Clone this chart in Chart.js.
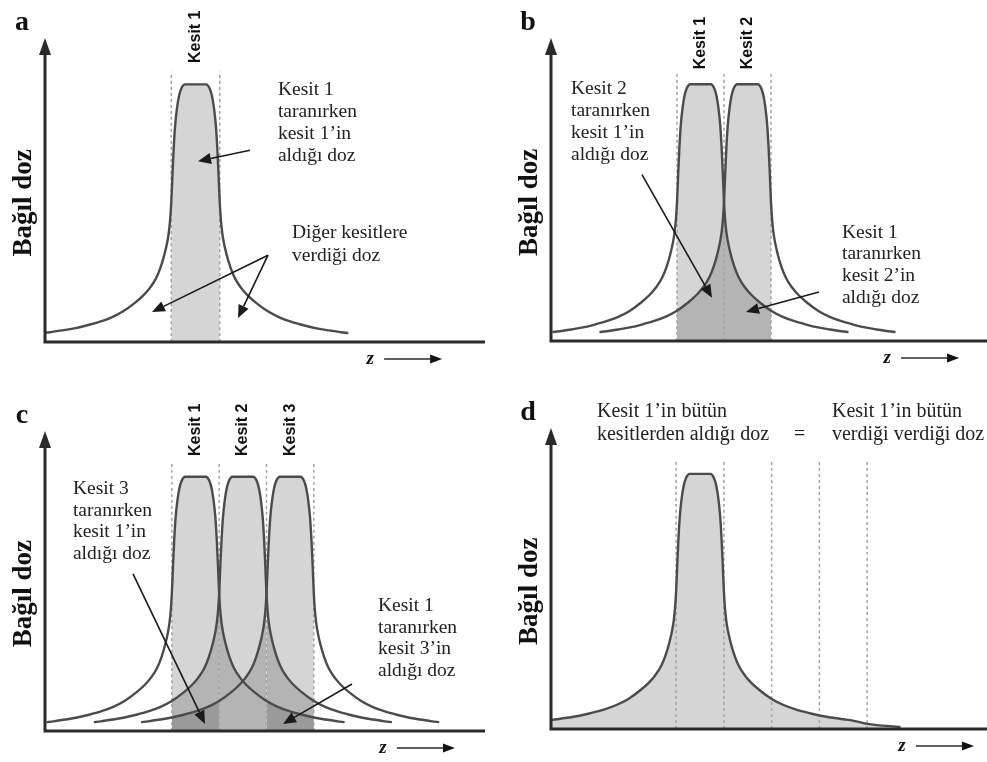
<!DOCTYPE html>
<html>
<head>
<meta charset="utf-8">
<script src="https://cdn.jsdelivr.net/npm/chart.js@4.4.0/dist/chart.umd.min.js"></script>
<style>
    body { margin: 0; background: #fff; }
    #wrap { position: relative; width: 987px; height: 762px; }
    .panel { position: absolute; }
</style>
</head>
<body>
<div id="wrap">
    <canvas id="chart-a" class="panel" width="493" height="381" style="left:0;top:0"></canvas>
    <canvas id="chart-b" class="panel" width="493" height="381" style="left:494px;top:0"></canvas>
    <canvas id="chart-c" class="panel" width="493" height="381" style="left:0;top:381px"></canvas>
    <canvas id="chart-d" class="panel" width="493" height="381" style="left:494px;top:381px"></canvas>
</div>
<script>
// Dose profile of one slice (half, mirrored): offset in slice widths -> relative dose
const profileOffset = [0, 0.22, 0.29, 0.34, 0.38, 0.42, 0.45, 0.475, 0.50, 0.525, 0.55, 0.58, 0.64, 0.72, 0.82, 0.94, 1.08, 1.25, 1.5, 1.75, 2.0, 2.25, 2.5, 2.75, 3.0, 3.15];
const profileDose = [1.0, 1.0, 0.985, 0.955, 0.91, 0.84, 0.75, 0.65, 0.54, 0.47, 0.425, 0.39, 0.34, 0.29, 0.245, 0.21, 0.18, 0.152, 0.118, 0.094, 0.077, 0.064, 0.053, 0.045, 0.038, 0.035];
// longer right tail drawn in panel d
const tailOffsetD = [3.5, 4.2];
const tailDoseD = [0.02, 0.008];

// slice (peak) positions per panel
const peaksA = [0];
const peaksB = [0, 1];
const peaksC = [0, 1, 2];
const peaksD = [0];
const boundariesA = [-0.5, 0.5];
const boundariesB = [-0.5, 0.5, 1.5];
const boundariesC = [-0.5, 0.5, 1.5, 2.5];
const boundariesD = [-0.5, 0.5, 1.5, 2.5, 3.5];
const sliceLabelsA = ['Kesit 1'];
const sliceLabelsB = ['Kesit 1', 'Kesit 2'];
const sliceLabelsC = ['Kesit 1', 'Kesit 2', 'Kesit 3'];

// annotation texts
const yTitle = 'Bağıl doz';
const textA1 = ['Kesit 1', 'taranırken', 'kesit 1’in', 'aldığı doz'];
const textA2 = ['Diğer kesitlere', 'verdiği doz'];
const textB1 = ['Kesit 2', 'taranırken', 'kesit 1’in', 'aldığı doz'];
const textB2 = ['Kesit 1', 'taranırken', 'kesit 2’in', 'aldığı doz'];
const textC1 = ['Kesit 3', 'taranırken', 'kesit 1’in', 'aldığı doz'];
const textC2 = ['Kesit 1', 'taranırken', 'kesit 3’in', 'aldığı doz'];
const textD1 = ['Kesit 1’in bütün', 'kesitlerden aldığı doz'];
const textD2 = ['Kesit 1’in bütün', 'verdiği verdiği doz'];

const LINE = '#4b4b4b';
const LIGHT = '#d5d5d5';
const DARK1 = '#b4b4b4';
const DARK2 = '#9a9a9a';
const DASH = '#a3a3a3';

function peakPoints(center, withTail) {
    const pts = [];
    for (let i = profileOffset.length - 1; i > 0; i--) pts.push({ x: center - profileOffset[i], y: profileDose[i] });
    for (let i = 0; i < profileOffset.length; i++) pts.push({ x: center + profileOffset[i], y: profileDose[i] });
    if (withTail) tailOffsetD.forEach((o, i) => pts.push({ x: center + o, y: tailDoseD[i] }));
    return pts;
}

function inSlice(points, slice) {
    return points.filter(p => p.x >= slice - 0.5 - 1e-6 && p.x <= slice + 0.5 + 1e-6);
}

function buildDatasets(peaks, boundaries, fullFill) {
    const sets = [];
    const curves = peaks.map(p => peakPoints(p, fullFill));
    curves.forEach(pts => sets.push({ data: pts, borderColor: LINE, borderWidth: 2.4, fill: false, order: 0 }));
    boundaries.forEach(b => sets.push({
        data: [{ x: b, y: 0 }, { x: b, y: 1.05 }], borderColor: DASH, borderWidth: 1.5,
        borderDash: [3, 3], fill: false, order: 1
    }));
    if (fullFill) {
        sets.push({ data: curves[0], borderWidth: 0, backgroundColor: LIGHT, fill: 'origin', order: 4 });
        return sets;
    }
    peaks.forEach((s, si) => {
        sets.push({ data: inSlice(curves[si], s), borderWidth: 0, backgroundColor: LIGHT, fill: 'origin', order: 4 });
        peaks.forEach((p, pi) => {
            if (pi === si) return;
            const dist = Math.abs(p - s);
            sets.push({
                data: inSlice(curves[pi], s), borderWidth: 0,
                backgroundColor: dist === 1 ? DARK1 : DARK2, fill: 'origin', order: dist === 1 ? 3 : 2
            });
        });
    });
    return sets;
}

function drawArrow(ctx, x0, y0, x1, y1, head, half) {
    const ang = Math.atan2(y1 - y0, x1 - x0);
    const bx = x1 - head * Math.cos(ang), by = y1 - head * Math.sin(ang);
    ctx.beginPath(); ctx.moveTo(x0, y0); ctx.lineTo(bx, by); ctx.stroke();
    ctx.beginPath();
    ctx.moveTo(x1, y1);
    ctx.lineTo(bx + half * Math.sin(ang), by - half * Math.cos(ang));
    ctx.lineTo(bx - half * Math.sin(ang), by + half * Math.cos(ang));
    ctx.closePath(); ctx.fill();
}

const decorPlugin = {
    id: 'decor',
    afterDatasetsDraw(chart, args, o) {
        const ctx = chart.ctx, a = chart.chartArea;
        const X = v => chart.scales.x.getPixelForValue(v);
        const Y = v => chart.scales.y.getPixelForValue(v);
        ctx.save();

        // axes with arrow on the dose axis
        ctx.strokeStyle = '#2a2a2a';
        ctx.fillStyle = '#2a2a2a';
        ctx.lineWidth = 3;
        ctx.beginPath();
        ctx.moveTo(a.left, a.top + 12);
        ctx.lineTo(a.left, a.bottom);
        ctx.lineTo(a.right, a.bottom);
        ctx.stroke();
        ctx.beginPath();
        ctx.moveTo(a.left, a.top);
        ctx.lineTo(a.left - 6, a.top + 17);
        ctx.lineTo(a.left + 6, a.top + 17);
        ctx.closePath();
        ctx.fill();

        // panel letter
        ctx.fillStyle = '#111';
        ctx.font = 'bold 28px "Liberation Serif"';
        ctx.textAlign = 'center';
        ctx.textBaseline = 'middle';
        ctx.fillText(o.letter, a.left - 23, a.top - 15);

        // y title
        ctx.save();
        ctx.translate(a.left - 21, Y(0.54));
        ctx.rotate(-Math.PI / 2);
        ctx.font = 'bold 27px "Liberation Serif"';
        ctx.fillText(yTitle, 0, 0);
        ctx.restore();

        // z arrow
        ctx.font = 'bold italic 19px "Liberation Serif"';
        ctx.fillText('z', X(o.zAt), a.bottom + 17);
        ctx.lineWidth = 1.6;
        drawArrow(ctx, X(o.zAt) + 14, a.bottom + 17, X(o.zAt) + 72, a.bottom + 17, 12, 4.5);

        // slice labels
        ctx.font = 'bold 16px "Liberation Sans"';
        (o.sliceLabels || []).forEach((t, i) => {
            ctx.save();
            ctx.translate(X(o.peaks[i]), Y(o.labelY));
            ctx.rotate(-Math.PI / 2);
            ctx.fillText(t, 0, 0);
            ctx.restore();
        });

        // text notes
        ctx.fillStyle = '#222';
        ctx.textAlign = 'left';
        (o.notes || []).forEach(n => {
            ctx.font = n.size + 'px "Liberation Serif"';
            n.lines.forEach((t, i) => ctx.fillText(t, X(n.x), Y(n.y) + i * n.lh));
        });

        // pointer arrows
        ctx.strokeStyle = '#1a1a1a';
        ctx.fillStyle = '#1a1a1a';
        ctx.lineWidth = 1.6;
        (o.arrows || []).forEach(r => drawArrow(ctx, X(r[0]), Y(r[1]), X(r[2]), Y(r[3]), 13, 5.5));
        ctx.restore();
    }
};

function makeChart(id, peaks, boundaries, fullFill, xMin, xMax, pad, decor) {
    return new Chart(document.getElementById(id), {
        type: 'line',
        data: { datasets: buildDatasets(peaks, boundaries, fullFill) },
        options: {
            responsive: false,
            animation: false,
            events: [],
            layout: { padding: pad },
            elements: { point: { radius: 0 }, line: { cubicInterpolationMode: 'monotone' } },
            scales: {
                x: { type: 'linear', min: xMin, max: xMax, display: false },
                y: { min: 0, max: 1.18, display: false }
            },
            plugins: { legend: { display: false }, tooltip: { enabled: false }, decor: decor }
        },
        plugins: [decorPlugin]
    });
}

makeChart('chart-a', peaksA, boundariesA, false, -3.103, 5.969,
    { left: 45, top: 38, right: 8, bottom: 39 }, {
        letter: 'a', zAt: 3.6, peaks: peaksA, sliceLabels: sliceLabelsA, labelY: 1.185,
        notes: [
            { lines: textA1, x: 1.70, y: 0.977, lh: 21.7, size: 19.5 },
            { lines: textA2, x: 1.99, y: 0.422, lh: 23, size: 19.5 }
        ],
        arrows: [[1.124, 0.744, 0.052, 0.702], [1.495, 0.337, -0.897, 0.116], [1.495, 0.337, 0.876, 0.093]]
    });

makeChart('chart-b', peaksB, boundariesB, false, -3.181, 6.096,
    { left: 57, top: 38, right: 0, bottom: 40 }, {
        letter: 'b', zAt: 3.97, peaks: peaksB, sliceLabels: sliceLabelsB, labelY: 1.16,
        notes: [
            { lines: textB1, x: -2.755, y: 0.98, lh: 21.7, size: 19.5 },
            { lines: textB2, x: 3.01, y: 0.422, lh: 21.7, size: 19.5 }
        ],
        arrows: [[-1.245, 0.648, 0.245, 0.168], [2.52, 0.191, 0.968, 0.113]]
    });

makeChart('chart-c', peaksC, boundariesC, false, -3.18, 6.117,
    { left: 45, top: 50, right: 8, bottom: 31 }, {
        letter: 'c', zAt: 3.96, peaks: peaksC, sliceLabels: sliceLabelsC, labelY: 1.185,
        notes: [
            { lines: textC1, x: -2.59, y: 0.953, lh: 21.7, size: 19.5 },
            { lines: textC2, x: 3.856, y: 0.492, lh: 21.7, size: 19.5 }
        ],
        arrows: [[-1.32, 0.618, 0.20, 0.028], [3.307, 0.185, 1.849, 0.028]]
    });

makeChart('chart-d', peaksD, boundariesD, true, -3.12, 6.01,
    { left: 57, top: 47, right: 0, bottom: 33 }, {
        letter: 'd', zAt: 4.23, peaks: peaksD,
        notes: [
            { lines: textD1, x: -2.157, y: 1.242, lh: 23, size: 20 },
            { lines: ['='], x: 1.97, y: 1.152, lh: 23, size: 20 },
            { lines: textD2, x: 2.764, y: 1.242, lh: 23, size: 20 }
        ],
        arrows: []
    });
</script>
</body>
</html>
